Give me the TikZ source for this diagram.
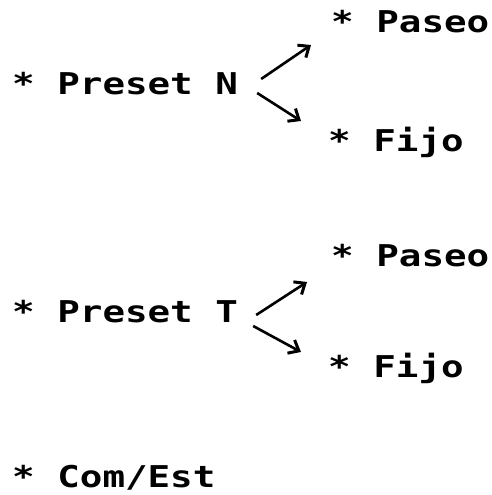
\documentclass[tikz,border=0pt]{standalone}
\usepackage{fontspec}
\newfontfamily\scrfont[FakeStretch=1.25]{DejaVu Sans Mono Bold}
\usetikzlibrary{arrows.meta}
\tikzset{
  lbl/.style={anchor=base west, inner sep=0pt, font=\scrfont\fontsize{30pt}{30pt}\selectfont},
  arr/.style={line width=2.6pt, -{Straight Barb[length=9pt, width=15pt, line width=3pt]}}
}
\begin{document}
\begin{tikzpicture}[x=1pt,y=1pt]
\useasboundingbox (0,0) rectangle (492,495);
\node[lbl] (pn) at (12,400) {* Preset N};
\node[lbl] (pa1) at (331,462) {* Paseo};
\node[lbl] (fi1) at (328,343) {* Fijo};
\node[lbl] (pt) at (12,172) {* Preset T};
\node[lbl] (pa2) at (331,228) {* Paseo};
\node[lbl] (fi2) at (328,117) {* Fijo};
\node[lbl] (ce) at (12,8) {* Com/Est};
\draw[arr] ([shift={(23,16)}]pn.base east) -- ([shift={(-20,-12)}]pa1.base west);
\draw[arr] ([shift={(19,2)}]pn.base east) -- ([shift={(-27,31)}]fi1.base west);
\draw[arr] ([shift={(18,8)}]pt.base east) -- ([shift={(-24,-15)}]pa2.base west);
\draw[arr] ([shift={(15,-3)}]pt.base east) -- ([shift={(-27,26)}]fi2.base west);
\end{tikzpicture}
\end{document}
